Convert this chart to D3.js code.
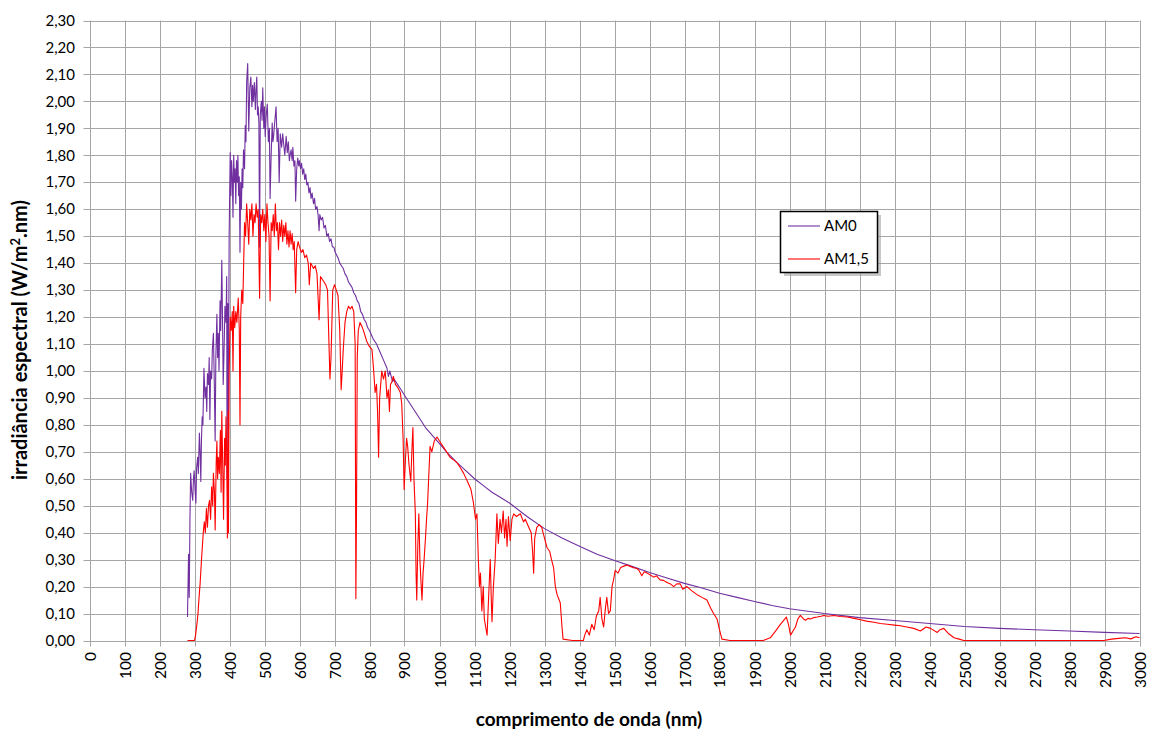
<!DOCTYPE html>
<html>
<head>
<meta charset="utf-8">
<script src="https://cdn.jsdelivr.net/npm/d3@7"></script>
<style>
  html, body { margin: 0; padding: 0; background: #ffffff; }
  svg { display: block; }
  text { font-family: Lato, "Open Sans", sans-serif; fill: #000; }
</style>
</head>
<body>
<svg id="chart" width="1149" height="731"></svg>
<script>
// ---- Data ----
const am0Wavelengths = [280,283,285,287,289,292,295,297,299,302,304,306,309,311,314,316,318,320,322,324,327,330,333,335,337,340,342,344,346,349,351,354,356,359,361,364,366,368,370,373,375,378,380,382,384,387,390,392,393,395,397,399,402,404,406,408,410,412,414,416,418,420,422,424,426,428,430,432,434,436,438,440,443,445,447,449,452,455,458,461,464,466,468,471,474,476,478,480,482,484,486,488,491,493,495,498,500,502,505,508,511,514,516,519,522,524,526,529,533,536,539,542,545,549,552,555,558,562,565,568,571,573,576,579,581,584,587,589,592,595,598,600,603,606,609,612,615,618,621,624,627,630,633,636,640,643,646,650,653,656,658,662,666,670,674,678,682,686,690,694,698,702,706,710,715,720,725,730,735,740,745,750,755,760,765,770,775,780,785,790,795,800,810,820,830,840,850,854,858,862,866,870,880,890,900,920,940,960,980,1000,1020,1050,1075,1100,1130,1150,1200,1250,1300,1350,1400,1450,1500,1550,1600,1650,1700,1750,1800,1850,1900,1950,2000,2100,2200,2300,2400,2500,2600,2700,2800,2900,3000];
const am0Values = [0.087,0.32,0.16,0.45,0.62,0.55,0.52,0.60,0.63,0.55,0.51,0.64,0.68,0.62,0.77,0.70,0.59,0.75,0.83,0.80,1.01,0.90,0.94,0.85,0.99,0.95,1.05,0.82,1.00,0.97,1.08,1.14,1.00,0.74,1.05,1.21,1.05,1.14,1.00,1.26,1.15,1.41,1.20,0.95,1.05,1.24,1.18,1.35,0.60,1.25,0.85,1.50,1.81,1.65,1.78,1.72,1.57,1.80,1.70,1.75,1.62,1.78,1.70,1.80,1.65,1.72,1.44,1.70,1.60,1.75,1.68,1.82,1.75,1.91,1.85,2.07,2.14,1.89,2.05,2.09,1.98,2.06,2.00,2.07,1.97,2.05,2.09,1.95,1.98,1.92,1.46,1.95,2.00,1.93,2.05,1.90,1.98,1.87,1.95,1.99,1.85,1.90,1.64,1.80,1.92,1.85,1.87,1.92,1.98,1.85,1.90,1.70,1.88,1.83,1.88,1.84,1.80,1.87,1.81,1.85,1.78,1.80,1.82,1.78,1.83,1.76,1.78,1.63,1.75,1.79,1.76,1.78,1.75,1.77,1.73,1.75,1.71,1.73,1.69,1.70,1.66,1.68,1.64,1.66,1.62,1.64,1.60,1.61,1.58,1.52,1.58,1.56,1.57,1.53,1.54,1.50,1.51,1.48,1.49,1.46,1.46,1.44,1.43,1.42,1.40,1.39,1.38,1.36,1.35,1.33,1.32,1.31,1.29,1.28,1.26,1.25,1.22,1.21,1.19,1.18,1.16,1.15,1.12,1.10,1.07,1.04,1.01,0.98,1.00,0.98,0.96,0.97,0.95,0.93,0.91,0.87,0.83,0.79,0.76,0.73,0.70,0.66,0.63,0.60,0.57,0.55,0.51,0.46,0.415,0.38,0.35,0.32,0.297,0.275,0.252,0.232,0.212,0.195,0.175,0.16,0.145,0.13,0.118,0.10,0.085,0.074,0.063,0.052,0.045,0.04,0.035,0.03,0.026];

const am15Wavelengths = [280,290,300,303,306,310,313,316,320,323,325,328,331,334,337,340,343,346,349,352,354,357,359,362,364,366,368,371,374,376,378,380,383,386,388,390,392,394,396,397,399,402,405,408,410,412,415,418,421,425,428,430,432,435,438,440,443,446,449,452,455,458,461,464,467,470,473,476,479,482,486,489,492,495,498,501,504,507,510,513,516,519,522,525,528,531,534,537,540,543,546,549,552,555,558,561,564,567,570,573,576,579,582,585,589,592,596,600,605,610,615,620,625,628,632,640,645,650,656,660,665,670,675,680,687,690,695,700,705,710,715,719,722,725,730,735,740,745,750,755,759,761,763,765,768,773,780,785,792,800,807,812,816,820,823,826,829,832,835,840,845,850,854,857,860,864,868,874,880,888,892,896,899,903,906,909,913,918,921,924,927,931,933,935,938,941,944,947,950,953,956,960,963,966,969,973,978,985,993,1000,1010,1020,1030,1040,1050,1060,1069,1080,1090,1097,1103,1107,1111,1114,1117,1121,1125,1128,1132,1136,1140,1145,1148,1150,1154,1159,1164,1168,1173,1177,1182,1186,1190,1193,1197,1202,1207,1212,1220,1231,1240,1245,1255,1262,1266,1269,1272,1278,1285,1292,1300,1307,1315,1320,1326,1331,1336,1345,1350,1353,1380,1411,1415,1421,1428,1435,1442,1448,1455,1459,1464,1469,1474,1478,1483,1488,1493,1498,1502,1510,1517,1525,1536,1545,1555,1564,1570,1578,1585,1593,1600,1612,1620,1630,1640,1650,1660,1669,1678,1688,1695,1707,1720,1736,1750,1764,1775,1783,1793,1800,1807,1830,1900,1925,1945,1960,1974,1991,1997,2003,2010,2017,2024,2031,2040,2046,2053,2060,2070,2079,2090,2098,2110,2127,2145,2165,2185,2203,2220,2241,2260,2279,2300,2317,2335,2355,2374,2390,2403,2422,2430,2441,2455,2470,2485,2498,2600,2700,2800,2898,2920,2940,2960,2975,2990,3000];
const am15Values = [0,0,0,0.02,0.05,0.10,0.16,0.21,0.30,0.36,0.40,0.44,0.40,0.49,0.42,0.50,0.52,0.45,0.57,0.50,0.62,0.55,0.41,0.66,0.74,0.60,0.68,0.62,0.78,0.55,0.85,0.70,0.45,0.75,0.65,0.83,0.70,0.38,0.85,0.40,1.00,1.20,1.15,1.22,1.00,1.24,1.16,1.22,1.18,1.27,1.15,0.80,1.20,1.30,1.25,1.37,1.55,1.50,1.62,1.55,1.47,1.60,1.56,1.62,1.50,1.58,1.55,1.62,1.57,1.60,1.27,1.58,1.55,1.60,1.52,1.58,1.48,1.62,1.55,1.50,1.26,1.55,1.52,1.58,1.50,1.62,1.52,1.55,1.45,1.55,1.50,1.56,1.48,1.54,1.50,1.55,1.47,1.52,1.46,1.52,1.47,1.51,1.45,1.48,1.29,1.45,1.48,1.46,1.44,1.45,1.42,1.43,1.40,1.32,1.40,1.38,1.39,1.36,1.19,1.35,1.34,1.33,1.32,1.30,0.97,1.05,1.30,1.32,1.30,1.28,1.15,0.93,1.00,1.08,1.18,1.22,1.24,1.23,1.24,1.22,1.10,0.155,0.50,1.05,1.15,1.18,1.16,1.14,1.11,1.09,1.08,1.00,0.92,0.95,0.85,0.68,0.90,0.95,1.00,0.97,1.00,0.90,0.93,0.85,0.95,0.96,0.98,0.95,0.94,0.92,0.88,0.75,0.56,0.68,0.75,0.72,0.65,0.59,0.70,0.79,0.60,0.47,0.25,0.15,0.35,0.47,0.30,0.22,0.15,0.25,0.30,0.38,0.45,0.51,0.60,0.72,0.70,0.74,0.755,0.74,0.72,0.70,0.68,0.67,0.66,0.64,0.62,0.59,0.56,0.51,0.45,0.47,0.30,0.20,0.25,0.11,0.20,0.08,0.05,0.02,0.15,0.30,0.15,0.07,0.20,0.30,0.47,0.36,0.45,0.40,0.48,0.38,0.45,0.35,0.46,0.37,0.45,0.47,0.46,0.47,0.44,0.45,0.42,0.40,0.33,0.25,0.38,0.42,0.43,0.42,0.38,0.345,0.33,0.30,0.27,0.20,0.17,0.14,0.05,0.005,0,0,0.02,0.04,0.02,0.06,0.04,0.09,0.11,0.16,0.08,0.05,0.12,0.16,0.10,0.11,0.20,0.23,0.26,0.25,0.27,0.275,0.28,0.275,0.27,0.267,0.26,0.24,0.255,0.25,0.245,0.235,0.24,0.225,0.223,0.215,0.21,0.20,0.21,0.21,0.19,0.20,0.185,0.17,0.16,0.15,0.12,0.10,0.08,0.04,0.005,0,0,0,0.01,0.035,0.06,0.087,0.06,0.02,0.035,0.05,0.08,0.093,0.08,0.075,0.082,0.08,0.085,0.087,0.09,0.093,0.09,0.093,0.089,0.087,0.082,0.077,0.072,0.068,0.063,0.06,0.057,0.055,0.05,0.045,0.035,0.05,0.045,0.03,0.04,0.045,0.025,0.01,0.005,0,0,0,0,0,0.005,0.008,0.01,0.006,0.014,0.01];

const xTickValues = [0,100,200,300,400,500,600,700,800,900,1000,1100,1200,1300,1400,1500,1600,1700,1800,1900,2000,2100,2200,2300,2400,2500,2600,2700,2800,2900,3000];
const yTickValues = [0,0.1,0.2,0.3,0.4,0.5,0.6,0.7,0.8,0.9,1.0,1.1,1.2,1.3,1.4,1.5,1.6,1.7,1.8,1.9,2.0,2.1,2.2,2.3];
const seriesNames = ["AM0", "AM1,5"];
const seriesColors = ["#7030A0", "#FF0000"];
const xTitle = "comprimento de onda (nm)";

// ---- Build chart ----
const svg = d3.select("#chart");
const x = d3.scaleLinear().domain([0, 3000]).range([89.5, 1139.5]);
const y = d3.scaleLinear().domain([0, 2.3]).range([640.5, 20.5]);
const fmtY = v => d3.format(".2f")(v).replace(".", ",");

const grid = svg.append("g");
grid.selectAll("line.h").data(yTickValues).join("line")
  .attr("x1", x(0) - 6).attr("x2", x(3000))
  .attr("y1", d => Math.round(y(d)) + 0.5).attr("y2", d => Math.round(y(d)) + 0.5)
  .attr("stroke", "#a6a6a6").attr("stroke-width", 1);
grid.selectAll("line.v").data(xTickValues).join("line")
  .attr("x1", d => Math.round(x(d)) + 0.5).attr("x2", d => Math.round(x(d)) + 0.5)
  .attr("y1", y(2.3)).attr("y2", y(0) + 6)
  .attr("stroke", "#a6a6a6").attr("stroke-width", 1);

// Y tick labels
svg.append("g").selectAll("text").data(yTickValues).join("text")
  .attr("x", 75).attr("y", d => y(d))
  .attr("dy", "0.35em").attr("text-anchor", "end")
  .style("font-size", "15px")
  .text(fmtY);

// X tick labels rotated
svg.append("g").selectAll("text").data(xTickValues).join("text")
  .attr("transform", d => `translate(${Math.round(x(d)) + 0.5},652) rotate(-90)`)
  .attr("dy", "0.35em").attr("text-anchor", "end")
  .style("font-size", "15.5px")
  .text(d => d);

// Axis titles
svg.append("text")
  .attr("x", 589).attr("y", 726).attr("text-anchor", "middle")
  .style("font-size", "19px").style("font-weight", "bold")
  .text(xTitle);

const yT = svg.append("text")
  .attr("transform", "translate(27,340) rotate(-90)")
  .attr("text-anchor", "middle")
  .style("font-size", "20px").style("font-weight", "bold");
yT.append("tspan").text("irradiância espectral (W/m");
yT.append("tspan").attr("dy", "-7").style("font-size", "13px").text("2");
yT.append("tspan").attr("dy", "7").text(".nm)");

// Series
const line = d3.line().x(d => x(d[0])).y(d => y(d[1]));
const am0 = am0Wavelengths.map((w, i) => [w, am0Values[i]]);
const am15 = am15Wavelengths.map((w, i) => [w, am15Values[i]]);
svg.append("path").datum(am0).attr("d", line)
  .attr("fill", "none").attr("stroke", seriesColors[0]).attr("stroke-width", 1.1)
  .attr("stroke-linejoin", "round");
svg.append("path").datum(am15).attr("d", line)
  .attr("fill", "none").attr("stroke", seriesColors[1]).attr("stroke-width", 1.1)
  .attr("stroke-linejoin", "round");

// Legend
const lg = svg.append("g");
lg.append("rect").attr("x", 784).attr("y", 215).attr("width", 97).attr("height", 61)
  .attr("fill", "#9a9a9a").attr("opacity", 0.55);
lg.append("rect").attr("x", 780.5).attr("y", 211.5).attr("width", 97).attr("height", 61)
  .attr("fill", "#fff").attr("stroke", "#000").attr("stroke-width", 1.5);
seriesNames.forEach((name, i) => {
  const cy = 226 + i * 33;
  lg.append("line").attr("x1", 788).attr("x2", 820).attr("y1", cy).attr("y2", cy)
    .attr("stroke", seriesColors[i]).attr("stroke-width", 1.1);
  lg.append("text").attr("x", 824).attr("y", cy).attr("dy", "0.35em")
    .style("font-size", "15px").text(name);
});
</script>
</body>
</html>
